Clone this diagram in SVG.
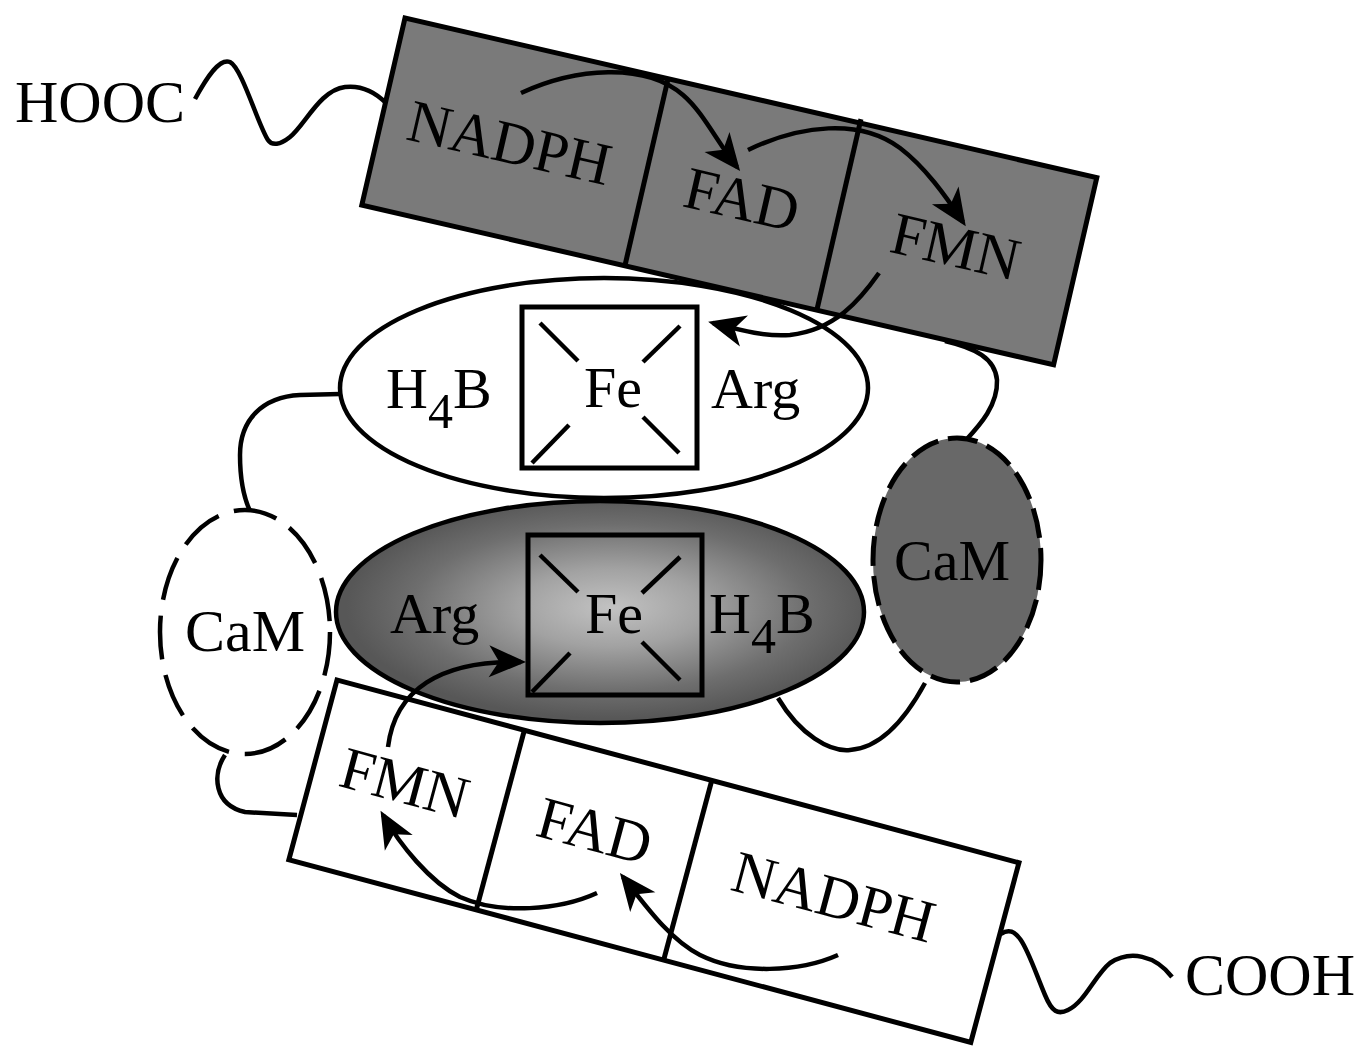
<svg xmlns="http://www.w3.org/2000/svg" width="1360" height="1046" viewBox="0 0 1360 1046">
<style>
text{font-family:"Liberation Serif","Times New Roman",serif;fill:#000;}
.t60{font-size:60px;}
.t58{font-size:58px;}
.mid{text-anchor:middle;}
.ln{fill:none;stroke:#000;stroke-width:4.5;stroke-linecap:butt;}
.ar{fill:none;stroke:#000;stroke-width:4.5;marker-end:url(#ah);}
.box{stroke:#000;stroke-width:5;}
.tick{stroke:#000;stroke-width:4.5;}
.ell{stroke:#000;stroke-width:4.5;}
</style>
<defs>
<marker id="ah" viewBox="-40 -20 48 40" refX="0" refY="0" markerWidth="48" markerHeight="40" markerUnits="userSpaceOnUse" orient="auto">
<path d="M5,0 L-32,-16 L-22,0 L-32,16 Z" fill="#000"/>
</marker>
<radialGradient id="gLow" cx="0.52" cy="0.48" r="0.5" fx="0.52" fy="0.48">
<stop offset="0" stop-color="#c2c2c2"/>
<stop offset="0.35" stop-color="#a2a2a2"/>
<stop offset="0.75" stop-color="#6e6e6e"/>
<stop offset="1" stop-color="#575757"/>
</radialGradient>
</defs>
<rect width="1360" height="1046" fill="#fff"/>

<g id="linkers">
<path class="ln" d="M195,99 C208,75 220,58 230,62 C242,68 258,125 268,140 C272,146 280,145 290,137 C305,125 320,90 345,87 C362,85 375,92 386,103"/>
<path class="ln" d="M1001,934 C1020,920 1030,960 1045,995 C1052,1012 1058,1015 1068,1010 C1085,1002 1095,975 1110,963 C1130,950 1155,955 1172,977"/>
<path class="ln" d="M340,394 L300,395 C262,397 240,420 240,455 C240,480 244,498 250,511"/>
<path class="ln" d="M945,341 C975,348 995,358 997,380 C998,405 980,425 966,440"/>
<path class="ln" d="M778,698 C800,735 830,752 850,750 C880,748 905,720 925,683"/>
<path class="ln" d="M225,755 C212,775 214,805 245,812 L297,815"/>
</g>

<g id="upper-oxygenase">
<ellipse class="ell" cx="604" cy="388" rx="264" ry="110" fill="#fff"/>
<rect class="box" x="522" y="307" width="175" height="161" fill="none"/>
<line class="tick" x1="540" y1="323" x2="578" y2="361"/>
<line class="tick" x1="680" y1="326" x2="643" y2="362"/>
<line class="tick" x1="569" y1="425" x2="532" y2="463"/>
<line class="tick" x1="643" y1="417" x2="679" y2="453"/>
<text class="t58" x="386" y="408">H<tspan dy="20" font-size="50">4</tspan><tspan dy="-20">B</tspan></text>
<text class="t58 mid" x="613" y="407">Fe</text>
<text class="t58" x="711" y="408">Arg</text>
</g>

<g id="top-reductase" transform="translate(405,18) rotate(13)">
<rect class="box" x="0" y="0" width="710" height="192" fill="#7a7a7a"/>
<line class="box" x1="270" y1="0" x2="270" y2="192"/>
<line class="box" x1="467" y1="-4" x2="467" y2="192"/>
<text class="t60 mid" x="130" y="118">NADPH</text>
<text class="t60 mid" x="369" y="121">FAD</text>
<text class="t60 mid" x="588" y="119">FMN</text>
</g>

<g id="lower-oxygenase">
<ellipse class="ell" cx="600" cy="612" rx="264" ry="111" fill="url(#gLow)"/>
<rect class="box" x="528" y="535" width="174" height="160" fill="none"/>
<line class="tick" x1="540" y1="555" x2="578" y2="592"/>
<line class="tick" x1="680" y1="557" x2="642" y2="593"/>
<line class="tick" x1="570" y1="653" x2="532" y2="692"/>
<line class="tick" x1="642" y1="642" x2="680" y2="680"/>
<text class="t58" x="390" y="633">Arg</text>
<text class="t58 mid" x="614" y="633">Fe</text>
<text class="t58" x="709" y="633">H<tspan dy="20" font-size="50">4</tspan><tspan dy="-20">B</tspan></text>
</g>

<g id="bottom-reductase" transform="translate(337,680) rotate(15)">
<rect class="box" x="0" y="0" width="706" height="186" fill="none"/>
<line class="box" x1="194" y1="0" x2="194" y2="186"/>
<line class="box" x1="388" y1="0" x2="388" y2="186"/>
<text class="t60 mid" x="92" y="102">FMN</text>
<text class="t60 mid" x="288" y="99">FAD</text>
<text class="t60 mid" x="536" y="101">NADPH</text>
</g>

<g id="cam-left">
<ellipse cx="245" cy="632" rx="85" ry="122" fill="#fff" stroke="#000" stroke-width="4.5" stroke-dasharray="44 16"/>
<text class="t60 mid" x="245" y="651">CaM</text>
</g>

<g id="cam-right">
<ellipse cx="957" cy="560" rx="84" ry="122" fill="#686868" stroke="#000" stroke-width="5" stroke-dasharray="30 10"/>
<text class="t58 mid" x="952" y="580">CaM</text>
</g>

<g id="label-hooc"><text class="t60" x="15" y="122">HOOC</text></g>
<g id="label-cooh"><text class="t60" x="1185" y="995">COOH</text></g>

<g id="connectors">
<path class="ar" d="M521,93 C575,68 645,62 683,95 C703,112 717,142 737,167"/>
<path class="ar" d="M748,150 C800,125 860,118 900,148 C925,167 945,195 963,222"/>
<path class="ar" d="M879,273 C860,300 835,330 790,335 C765,337 740,330 713,323"/>
<path class="ar" d="M388,747 C395,690 440,660 521,662"/>
<path class="ar" d="M838,955 C800,972 740,975 700,955 C670,940 645,905 623,877"/>
<path class="ar" d="M597,893 C560,910 500,915 460,897 C430,882 400,845 383,815"/>
</g>
</svg>
